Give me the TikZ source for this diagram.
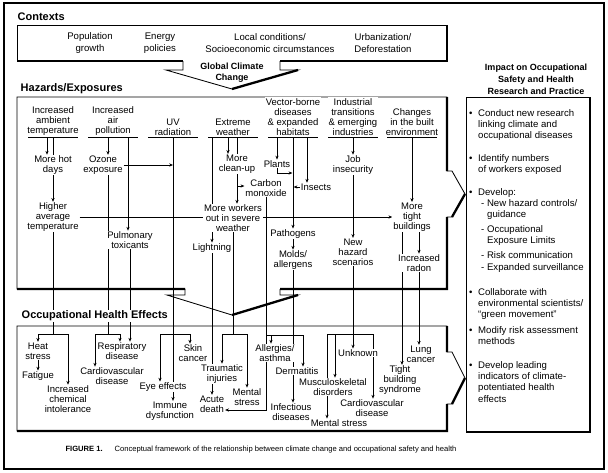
\documentclass[tikz,border=0pt]{standalone}
\usepackage{fontspec}
\setmainfont{Liberation Sans}
\usetikzlibrary{arrows.meta,positioning,backgrounds}

\tikzset{
  lbl/.style={align=center, fill=white, inner sep=0.8pt, font=\fontsize{9.5}{9.8}\selectfont},
  hdr/.style={lbl, anchor=south, inner ysep=1.5pt},
  sect/.style={anchor=west, inner sep=0.5pt, fill=white, font=\fontsize{11}{12}\selectfont\bfseries},
  ctx/.style={align=center, font=\fontsize{9.6}{11.5}\selectfont},
  item/.style={anchor=base west, inner sep=0pt, font=\fontsize{9.6}{11.3}\selectfont},
  link/.style={line width=0.75pt},
  arr/.style={link, -{Stealth[length=3.8pt,width=3.2pt]}},
  frame/.style={line width=0.85pt},
  shade/.style={line width=2.3pt},
}

\begin{document}
\begin{tikzpicture}[x=1pt, y=-1pt]
\useasboundingbox (0,0) rectangle (608,472);
\draw[line width=1.4pt] (4,3) rectangle (604,469);

% Contexts
\node[sect] at (17,17) {Contexts};
\draw[frame] (183,61) -- (17,61) -- (17,25) -- (447,25) -- (447,61) -- (280,61);
\draw[shade] (17,61) -- (183,61) (280,61) -- (447,61) -- (447,25);
\draw[frame] (183,61) -- (183,70) -- (166,70) -- (232,89) -- (298,70) -- (280,70) -- (280,61);
\draw[shade] (232,89) -- (298,70);
\node[ctx] (pop) at (90,43) {Population\\growth};
\node[ctx] (nrg) at (160,43) {Energy\\policies};
\node[ctx] (loc) at (270,43) {Local conditions/\\Socioeconomic circumstances};
\node[ctx] (urb) at (383,43) {Urbanization/\\Deforestation};
\node[align=center, font=\fontsize{9}{11}\selectfont\bfseries] (gcc) at (232,72.5) {Global Climate\\Change};

% Hazards/Exposures
\node[sect] at (20,89) {Hazards/Exposures};
\draw[frame] (185,289) -- (17,289) -- (17,97) -- (447,97) -- (447,171) -- (452,171) -- (465,194) -- (452,217) -- (447,217) -- (447,289) -- (280,289);
\draw[shade] (447,97) -- (447,171) (465,194) -- (452,217) (447,217) -- (447,289) -- (280,289) (17,289) -- (185,289);
\draw[frame] (185,289) -- (185,295) -- (167,295) -- (232,315) -- (298,295) -- (280,295) -- (280,289);
\draw[shade] (232,315) -- (298,295);

\node[hdr] (amb) at (53,137) {Increased\\ambient\\temperature};
\node[hdr] (air) at (113,137) {Increased\\air\\pollution};
\node[hdr] (uv) at (173,137) {UV\\radiation};
\node[hdr] (ext) at (233,137) {Extreme\\weather};
\node[hdr] (vec) at (293,137) {Vector-borne\\diseases\\\& expanded\\habitats};
\node[hdr] (ind) at (353,137) {Industrial\\transitions\\\& emerging\\industries};
\node[hdr] (blt) at (412,137) {Changes\\in the built\\environment};
\foreach \h in {amb,air,uv,ext,vec,ind,blt}
  \draw[frame] ([xshift=-25pt]\h.south) -- ([xshift=25pt]\h.south);

\node[lbl] (hot) at (53,165) {More hot\\days};
\node[lbl] (higher) at (53,217) {Higher\\average\\temperature};
\node[lbl] (ozone) at (103,165) {Ozone\\exposure};
\node[lbl] (pulm) at (130,240) {Pulmonary\\toxicants};
\node[lbl] (cleanup) at (237,164) {More\\clean-up};
\node[lbl] (plants) at (277,164) {Plants};
\node[lbl] (co) at (266,188) {Carbon\\monoxide};
\node[lbl] (insects) at (316,187) {Insects};
\node[lbl] (workers) at (233,218) {More workers\\out in severe\\weather};
\node[lbl] (light) at (212,248) {Lightning};
\node[lbl] (path) at (293,234) {Pathogens};
\node[lbl] (molds) at (293,260) {Molds/\\allergens};
\node[lbl] (job) at (353,165) {Job\\insecurity};
\node[lbl] (newhaz) at (353,252) {New\\hazard\\scenarios};
\node[lbl] (tight) at (412,217) {More\\tight\\buildings};
\node[lbl] (radon) at (419,263) {Increased\\radon};

% Occupational Health Effects
\node[sect] at (21,316) {Occupational Health Effects};
\draw[frame] (17,431) -- (17,326) -- (447,326) -- (447,352) -- (452,352) -- (465,378) -- (452,404) -- (447,404) -- (447,431) -- cycle;
\draw[shade] (447,326) -- (447,352) (465,378) -- (452,404) (447,404) -- (447,431) -- (17,431);

\node[lbl] (heat) at (38,351) {Heat\\stress};
\node[lbl] (fatigue) at (38,376) {Fatigue};
\node[lbl] (chem) at (68,399) {Increased\\chemical\\intolerance};
\node[lbl] (resp) at (122,351) {Respiratory\\disease};
\node[lbl] (cardio) at (112,376) {Cardiovascular\\disease};
\node[lbl] (skin) at (193,353) {Skin\\cancer};
\node[lbl] (eye) at (163,387) {Eye effects};
\node[lbl] (immune) at (170,411) {Immune\\dysfunction};
\node[lbl] (trauma) at (222,374) {Traumatic\\injuries};
\node[lbl] (acute) at (212,404) {Acute\\death};
\node[lbl] (mentalA) at (247,397) {Mental\\stress};
\node[lbl] (allerg) at (275,353) {Allergies/\\asthma};
\node[lbl] (derm) at (297,371) {Dermatitis};
\node[lbl] (infect) at (291,412) {Infectious\\diseases};
\node[lbl] (unknown) at (358,353) {Unknown};
\node[lbl] (musc) at (333,387) {Musculoskeletal\\disorders};
\node[lbl] (mentalB) at (339,423) {Mental stress};
\node[lbl] (cardioB) at (372,408) {Cardiovascular\\disease};
\node[lbl] (tbs) at (400,380) {Tight\\building\\syndrome};
\node[lbl] (lung) at (421,354) {Lung\\cancer};

% Connectors
\begin{scope}[on background layer]
  % temperature
  \draw[arr] ([xshift=-6pt]amb.south) -- ([xshift=-6pt]amb.south |- hot.north);
  \draw[link] (amb.south) -- (hot.north);
  \draw[arr] (hot) -- (higher);
  \coordinate (tmpB) at (53,334);
  \draw[link] (higher) -- (tmpB);
  \draw[arr] (tmpB) -| (heat);
  \draw[arr] (tmpB) -| (chem);
  \draw[arr] (heat) -- (fatigue);
  % air pollution
  \draw[arr] ([xshift=-5pt]air.south) -- ([xshift=-5pt]air.south |- ozone.north);
  \draw[arr] ([xshift=15pt]air.south) -- ([xshift=15pt]air.south |- pulm.north);
  \draw[arr] (ozone) -- (ozone -| uv);
  \coordinate (ozB) at (108,334);
  \draw[link] ([xshift=5pt]ozone.south) -- (ozB);
  \draw[arr] (ozB) -| ([xshift=-17pt]cardio.north);
  \draw[arr] (ozB) -| ([xshift=-2pt]resp.north);
  \draw[arr] (pulm) -- (pulm |- resp.north);
  % UV
  \draw[arr] (uv) -- (uv |- immune.north);
  \coordinate (uvL) at (160,334);
  \coordinate (uvR) at (190,334);
  \draw[link] (uvL) -- (uvR);
  \draw[arr] (uvL) -- (uvL |- eye.north);
  \draw[arr] (uvR) -- (uvR |- skin.north);
  % extreme weather
  \draw[link] ([xshift=-21pt]ext.south) -- ([xshift=-21pt]ext.south |- workers.north);
  \draw[arr] ([xshift=-5pt]ext.south) -- ([xshift=-5pt]ext.south |- cleanup.north);
  \draw[link] ([xshift=4pt]ext.south) -- ([xshift=4pt]ext.south |- cleanup.north);
  \draw[arr] (cleanup) -- (cleanup |- workers.north);
  \coordinate (clB) at (237,186);
  \draw[arr] (clB) -- (clB -| co.west);
  \draw[arr] (light |- workers.south) -- (light);
  \draw[link] (light) -- (light |- trauma.north);
  \coordinate (wkB) at (233,334);
  \draw[link] (workers) -- (wkB);
  \draw[arr] (wkB) -| (trauma);
  \draw[arr] (wkB) -| (mentalA);
  \draw[arr] (acute |- trauma.south) -- (acute);
  \draw[arr] (co) |- ([yshift=-6pt]acute.east);
  % vector-borne
  \draw[arr] ([xshift=-16pt]vec.south) -- ([xshift=-16pt]vec.south |- plants.north);
  \draw[arr] (vec.south) -- (path.north);
  \draw[arr] ([xshift=14pt]vec.south) -- ([xshift=14pt]vec.south |- insects.north);
  \coordinate (plB) at (277,173);
  \draw[arr] (plants.south) -- (plB) -- ([xshift=-0.6pt]plB -| path.north);
  \draw[arr] (insects) -- ([xshift=0.6pt]insects -| path);
  \draw[arr] (path) -- (molds);
  \draw[arr] (molds) -- (molds |- infect.north);
  \coordinate (mdL) at (266,335);
  \coordinate (mdR) at (303,335);
  \draw[link] (mdL) -- (mdR);
  \draw[arr] ([xshift=5pt]mdL) -- ([xshift=5pt]mdL |- allerg.north);
  \draw[arr] (mdR) -- (mdR |- derm.north);
  % industrial
  \draw[arr] (ind.south) -- (job.north);
  \draw[arr] (job) -- (newhaz);
  \coordinate (nhB) at (353,334);
  \draw[link] (newhaz) -- (nhB);
  \draw[arr] (nhB) -- (nhB |- unknown.north);
  \coordinate (nhL) at (327,334);
  \coordinate (nhR) at (373,334);
  \draw[link] (nhL) -- (nhR);
  \draw[arr] (nhL) -- (nhL |- mentalB.north);
  \draw[arr] ([xshift=8pt]nhL) -- ([xshift=8pt]nhL |- musc.north);
  \draw[arr] (nhR) -- (nhR |- cardioB.north);
  % built environment
  \draw[arr] (blt.south) -- (tight.north);
  \draw[arr] ([xshift=-10pt]tight.south) -- ([xshift=-10pt]tight.south |- tbs.north);
  \draw[arr] ([xshift=7pt]tight.south) -- ([xshift=7pt]tight.south |- radon.north);
  \draw[arr] (radon) -- (radon |- lung.north);
  % heat to buildings
  \draw[arr] (higher) -- (tight);
\end{scope}

% Impact box
\node[align=center, font=\fontsize{9}{12}\selectfont\bfseries] (imp) at (536,79) {Impact on Occupational\\Safety and Health\\Research and Practice};
\draw[frame] (466,432) -- (466,97) -- (590,97);
\draw[shade] (590,97) -- (590,432) -- (466,432);

\node[item] (it1) at (469,116.3) {\begin{tabular}[t]{@{}p{9pt}@{}l@{}}
  \textbullet & Conduct new research\\ & linking climate and\\ & occupational diseases\end{tabular}};
\node[item] (it2) at (469,161.3) {\begin{tabular}[t]{@{}p{9pt}@{}l@{}}
  \textbullet & Identify numbers\\ & of workers exposed\end{tabular}};
\node[item] (it3) at (469,195.3) {\begin{tabular}[t]{@{}p{9pt}@{}l@{}}
  \textbullet & Develop:\\
  & \hspace{3pt}- New hazard controls/\\
  & \hspace{9pt}guidance\\[3pt]
  & \hspace{3pt}- Occupational\\
  & \hspace{9pt}Exposure Limits\\[4pt]
  & \hspace{3pt}- Risk communication\\
  & \hspace{3pt}- Expanded surveillance\end{tabular}};
\node[item] (it4) at (469,295.3) {\begin{tabular}[t]{@{}p{9pt}@{}l@{}}
  \textbullet & Collaborate with\\ & environmental scientists/\\ & ``green movement''\end{tabular}};
\node[item] (it5) at (469,333.3) {\begin{tabular}[t]{@{}p{9pt}@{}l@{}}
  \textbullet & Modify risk assessment\\ & methods\end{tabular}};
\node[item] (it6) at (469,368.3) {\begin{tabular}[t]{@{}p{9pt}@{}l@{}}
  \textbullet & Develop leading\\ & indicators of climate-\\ & potentiated health\\ & effects\end{tabular}};

% Caption
\node[font=\fontsize{7.6}{9}\selectfont] (cap) at (261,450) {\textbf{FIGURE 1.}\hspace{12pt}Conceptual framework of the relationship between climate change and occupational safety and health};
\end{tikzpicture}
\end{document}
